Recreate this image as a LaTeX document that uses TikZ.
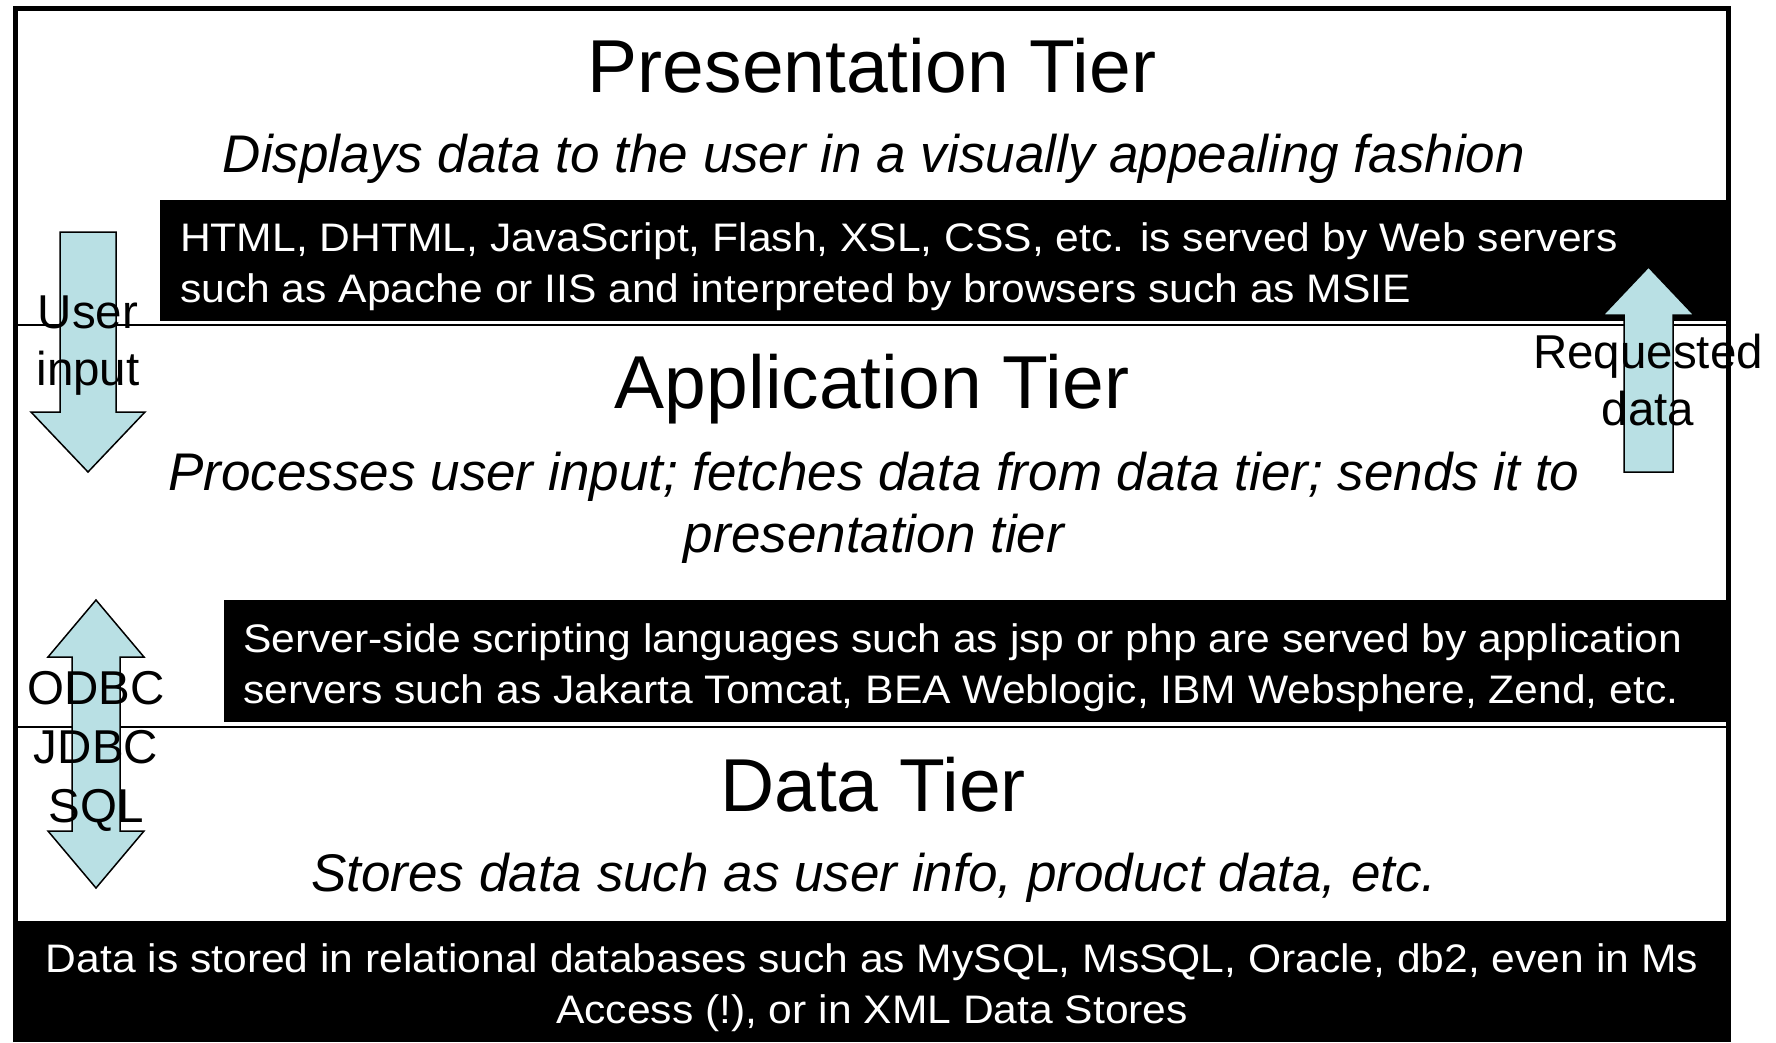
\documentclass[tikz,border=0pt]{standalone}
\usepackage{fontspec}
\setmainfont{Liberation Sans}
\newfontfamily\boxfont[FakeStretch=1.07]{Liberation Sans}
\definecolor{arrowblue}{RGB}{185,224,228}
\tikzset{
  title/.style={anchor=base, inner sep=0pt, font=\fontsize{75}{88}\selectfont},
  subtitle/.style={anchor=base, inner sep=0pt, font=\fontsize{53}{62}\selectfont\itshape},
  boxtext/.style={anchor=base west, inner sep=0pt, text=white, font=\boxfont\fontsize{39.8}{48}\selectfont},
  boxtextc/.style={anchor=base, inner sep=0pt, text=white, font=\boxfont\fontsize{39.8}{48}\selectfont},
  arrowlabel/.style={anchor=base, inner sep=0pt, font=\fontsize{47.5}{57}\selectfont},
  blockarrow/.style={fill=arrowblue, draw=black, line width=1.5pt, line join=miter},
  separator/.style={draw=black, line width=1.6pt},
  blackbox/.style={fill=black, draw=none},
  frame/.style={draw=black, line width=5pt}
}
\begin{document}
\begin{tikzpicture}[x=1pt, y=-1pt]
\useasboundingbox (0,0) rectangle (1776,1042);
\fill[white] (0,0) rectangle (1776,1042);

% separators between tiers
\coordinate (s1l) at (15,325);
\coordinate (s1r) at (1728,325);
\coordinate (s2l) at (15,727);
\coordinate (s2r) at (1728,727);
\draw[separator] (s1l) -- (s1r);
\draw[separator] (s2l) -- (s2r);

% black technology boxes
\fill[blackbox] (160,200) rectangle (1730,321);
\fill[blackbox] (224,600) rectangle (1728,722);
\fill[blackbox] (13,921) rectangle (1731,1042);

% outer frame
\draw[frame] (15,1042) -- (15,8) -- (1728,8) -- (1728,1042);

% block arrows
\draw[blockarrow] (60,232) -- (116,232) -- (116,412) -- (145,412) -- (88,472) -- (31,412) -- (60,412) -- cycle;
\draw[blockarrow] (1624,472) -- (1673,472) -- (1673,315) -- (1694,315) -- (1648.5,267) -- (1603,315) -- (1624,315) -- cycle;
\draw[blockarrow] (96,600) -- (144,657) -- (120,657) -- (120,831) -- (144,831) -- (96,888) -- (48,831) -- (72,831) -- (72,657) -- (48,657) -- cycle;

% presentation tier
\node[title] (pt) at (872,92) {Presentation Tier};
\node[subtitle] (pts) at (874,172) {Displays data to the user in a visually appealing fashion};
\node[boxtext] (pb1) at (180,251) {HTML, DHTML, JavaScript, Flash, XSL, CSS, etc. is served by Web servers};
\node[boxtext] (pb2) at (180,302) {such as Apache or IIS and interpreted by browsers such as MSIE};

% application tier
\node[title] (at) at (872,408) {Application Tier};
\node[subtitle] (ats1) at (874,490) {Processes user input; fetches data from data tier; sends it to};
\node[subtitle] (ats2) at (874,552) {presentation tier};
\node[boxtext] (ab1) at (243,652) {Server-side scripting languages such as jsp or php are served by application};
\node[boxtext] (ab2) at (243,703) {servers such as Jakarta Tomcat, BEA Weblogic, IBM Websphere, Zend, etc.};

% data tier
\node[title] (dt) at (873,811) {Data Tier};
\node[subtitle] (dts) at (874,891) {Stores data such as user info, product data, etc.};
\node[boxtextc] (db1) at (872,972) {Data is stored in relational databases such as MySQL, MsSQL, Oracle, db2, even in Ms};
\node[boxtextc] (db2) at (872,1023) {Access (!), or in XML Data Stores};

% arrow labels
\node[arrowlabel] (ui1) at (88,328) {User};
\node[arrowlabel] (ui2) at (88,385) {input};
\node[arrowlabel] (rd1) at (1648,368) {Requested};
\node[arrowlabel] (rd2) at (1648,425) {data};
\node[arrowlabel] (od1) at (96,704) {ODBC};
\node[arrowlabel] (od2) at (96,763) {JDBC};
\node[arrowlabel] (od3) at (96,822) {SQL};
\end{tikzpicture}
\end{document}
